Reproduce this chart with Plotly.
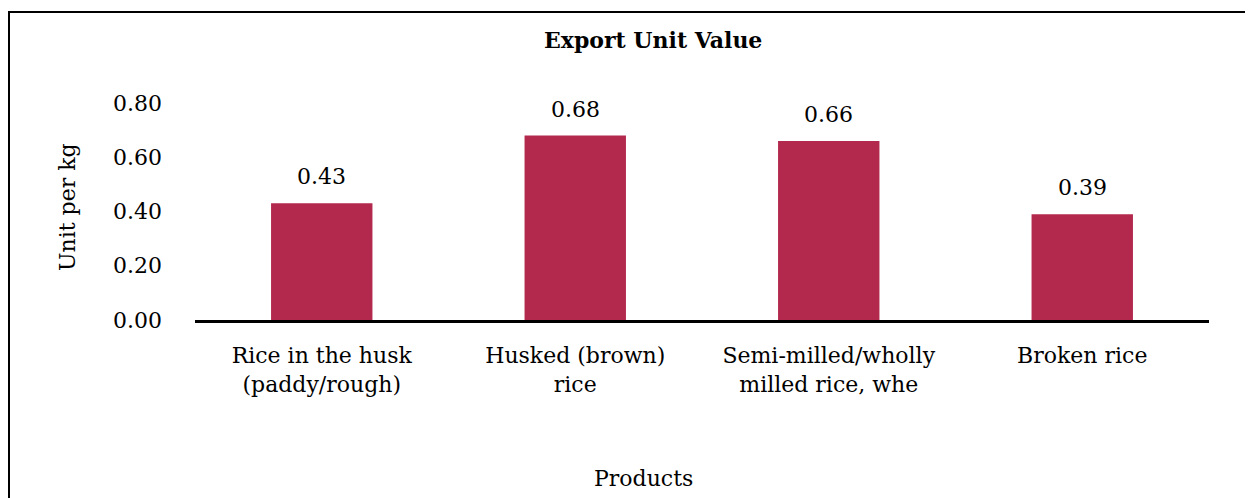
import plotly.graph_objects as go

categories = ["Rice in the husk<br>(paddy/rough)", "Husked (brown)<br>rice",
              "Semi-milled/wholly<br>milled rice, whe", "Broken rice"]
values = [0.43, 0.68, 0.66, 0.39]
tick_vals = [0.0, 0.2, 0.4, 0.6, 0.8]
tick_text = ["0.00", "0.20", "0.40", "0.60", "0.80"]

FONT = "DejaVu Serif"
FS = 22
OFF = 8  # page body margin
W, H = 1253, 498
L, R, T = 195 - OFF, 52, 103 - OFF
B = H - (320 - OFF)
pw, ph = W - L - R, H - T - B

def px(x):
    return (x - OFF - L) / pw

def py(y):
    return (H - B - (y - OFF)) / ph

fig = go.Figure(go.Bar(
    x=categories, y=values,
    marker=dict(color="#B3294E", line=dict(width=0)),
    cliponaxis=False, width=0.4,
))

for c, v in zip(categories, values):
    fig.add_annotation(x=c, y=v, text=f"{v:.2f}", showarrow=False, yanchor="bottom",
                       yshift=12, font=dict(family=FONT, size=FS, color="black"))

fig.update_layout(
    width=W, height=H, margin=dict(l=L, r=R, t=T, b=B),
    paper_bgcolor="white", plot_bgcolor="white", showlegend=False,
    font=dict(family=FONT, size=FS, color="black"),
    xaxis=dict(showline=True, linecolor="black", linewidth=3, showgrid=False,
               ticks="", ticklabelstandoff=14,
               tickfont=dict(family=FONT, size=FS, color="black")),
    yaxis=dict(range=[0, 0.8], tickvals=tick_vals, ticktext=tick_text,
               showgrid=False, showline=False, zeroline=False, ticks="",
               ticklabelstandoff=32,
               tickfont=dict(family=FONT, size=FS, color="black")),
    shapes=[dict(type="rect", xref="paper", yref="paper",
                 x0=px(9), x1=px(1250), y0=py(12), y1=py(530),
                 line=dict(color="black", width=2), fillcolor="rgba(0,0,0,0)", layer="below")],
)
fig.add_annotation(text="<b>Export Unit Value</b>", x=px(653), y=py(40), xref="paper", yref="paper",
                   xanchor="center", yanchor="middle",
                   showarrow=False, font=dict(family=FONT, size=FS, color="black"))
fig.add_annotation(text="Products", x=px(643), y=py(478), xref="paper", yref="paper",
                   xanchor="center", yanchor="middle",
                   showarrow=False, font=dict(family=FONT, size=FS, color="black"))
fig.add_annotation(text="Unit per kg", x=px(67), y=py(207), xref="paper", yref="paper",
                   xanchor="center", yanchor="middle", textangle=-90,
                   showarrow=False, font=dict(family=FONT, size=FS, color="black"))

fig.write_html("out.html")
